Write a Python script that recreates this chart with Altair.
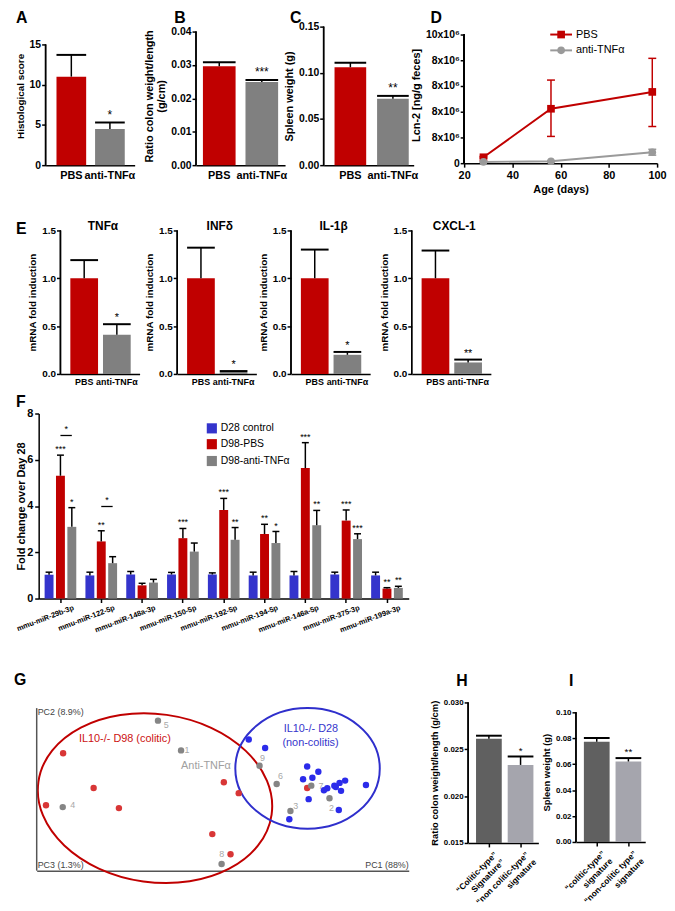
import altair as alt
import pandas as pd

FONT = "Liberation Sans"
RED = "#C00000"
GREY = "#808080"
BLUE = "#3434CC"
HDARK = "#606060"
HLIGHT = "#A5A5AD"

# ---------------- data ----------------
abc_groups = ["PBS", "anti-TNFα"]
a_values = [11.0, 4.5]
a_tops = [13.7, 5.3]
a_stars = ["", "*"]
a_ticks = [0, 5, 10, 15]
b_values = [0.0296, 0.0249]
b_tops = [0.0308, 0.0255]
b_stars = ["", "***"]
b_ticks = [0.0, 0.01, 0.02, 0.03, 0.04]
c_values = [0.106, 0.0718]
c_tops = [0.111, 0.075]
c_stars = ["", "**"]
c_ticks = [0.0, 0.05, 0.10, 0.15]

d_series = ["PBS", "anti-TNFα"]
d_days = [28, 56, 98]
d_pbs_mean = [0.46e6, 4.23e6, 5.54e6]
d_pbs_low = [0.40e6, 2.08e6, 2.85e6]
d_pbs_high = [0.52e6, 6.46e6, 8.15e6]
d_anti_mean = [0.10e6, 0.15e6, 0.85e6]
d_anti_low = [0.07e6, 0.10e6, 0.62e6]
d_anti_high = [0.13e6, 0.20e6, 1.08e6]
d_y_ticks = [0, 2000000, 4000000, 6000000, 8000000, 10000000]
d_y_labels = ["0", "8x10⁶", "8x10⁶", "8x10⁶", "8x10⁶", "10x10⁶"]
d_x_ticks = [20, 40, 60, 80, 100]

e_titles = ["TNFα", "INFδ", "IL-1β", "CXCL-1"]
e_pbs = [1.0, 1.0, 1.0, 1.0]
e_pbs_top = [1.19, 1.32, 1.30, 1.29]
e_anti = [0.41, 0.02, 0.20, 0.12]
e_anti_top = [0.52, 0.03, 0.23, 0.15]
e_anti_stars = ["*", "*", "*", "**"]
e_ticks = [0.0, 0.5, 1.0, 1.5]

f_mirs = ["mmu-miR-29b-3p", "mmu-miR-122-5p", "mmu-miR-148a-3p", "mmu-miR-150-5p",
          "mmu-miR-192-5p", "mmu-miR-194-5p", "mmu-miR-146a-5p", "mmu-miR-375-3p",
          "mmu-miR-199a-3p"]
f_series = ["D28 control", "D98-PBS", "D98-anti-TNFα"]
f_colors = [BLUE, RED, GREY]
f_control = [1.03, 1.00, 1.04, 1.04, 1.04, 1.00, 1.00, 1.04, 1.00]
f_control_top = [1.14, 1.14, 1.17, 1.13, 1.11, 1.14, 1.17, 1.14, 1.14]
f_pbs = [5.31, 2.47, 0.57, 2.61, 3.83, 2.79, 5.64, 3.37, 0.43]
f_pbs_top = [6.20, 2.93, 0.66, 3.03, 4.33, 3.21, 6.74, 3.83, 0.47]
f_anti = [3.10, 1.53, 0.69, 2.03, 2.54, 2.40, 3.17, 2.57, 0.46]
f_anti_top = [3.93, 1.81, 0.83, 2.40, 3.07, 2.90, 3.81, 2.80, 0.53]
f_control_stars = ["", "", "", "", "", "", "", "", ""]
f_pbs_stars = ["***", "**", "", "***", "***", "**", "***", "***", "**"]
f_anti_stars = ["*", "", "", "", "**", "*", "**", "***", "**"]
f_bracket_mirs = ["mmu-miR-29b-3p", "mmu-miR-122-5p"]
f_bracket_y = [7.05, 3.98]
f_bracket_stars = ["*", "*"]
f_y_ticks = [0, 2, 4, 6, 8]

g_groups = ["IL10-/- D98", "IL10-/- D28", "Anti-TNFα"]
g_colors = ["#D83636", "#2B2BEA", "#858585"]
g_red_pc1 = [7.1, 15.3, 2.5, 22.1, 50.3, 54.3, 47.2, 52.1, 72.7]
g_red_pc2 = [72.2, 50.9, 40.2, 38.5, 54.4, 47.7, 22.5, 10.1, 50.9]
g_blue_pc1 = [57.0, 61.4, 72.7, 75.7, 71.6, 74.1, 78.1, 77.2, 80.0, 80.4, 81.4, 82.9,
              81.8, 88.5, 73.1, 81.2, 67.9]
g_blue_pc2 = [80.7, 75.5, 64.1, 60.9, 56.2, 57.2, 50.7, 49.5, 52.3, 51.5, 54.0, 55.4,
              49.1, 52.7, 44.0, 37.3, 31.6]
g_grey_ids = ["5", "1", "4", "9", "6", "7", "3", "2", "8"]
g_grey_pc1 = [32.6, 38.8, 7.0, 59.9, 64.5, 73.8, 68.2, 78.7, 49.7]
g_grey_pc2 = [92.3, 74.0, 39.1, 64.5, 53.3, 52.3, 36.7, 44.6, 4.1]
g_grey_lab_pc1 = [34.8, 40.4, 9.7, 60.7, 65.5, 76.4, 69.6, 79.2, 49.7]
g_grey_lab_pc2 = [89.7, 74.2, 40.4, 69.2, 58.2, 52.3, 40.0, 38.5, 10.0]
g_ell_pc1 = [31.8, 72.8]
g_ell_pc2 = [44.6, 62.9]
g_ell_a = [119, 73]
g_ell_b = [85, 61]
g_ell_angle = [8, 0]
g_ell_color = [RED, "#2F2FCC"]
g_text = ["IL10-/- D98 (colitic)", "IL10-/- D28", "(non-colitis)", "Anti-TNFα"]
g_text_pc1 = [23.7, 73.7, 73.6, 45.5]
g_text_pc2 = [80.9, 87.2, 78.7, 64.5]
g_text_color = ["#CC1111", "#3535CC", "#3535CC", "#A0A0A0"]

h_groups = ["“Colitic-type”|Signature”", "“non colitic-type”|signature"]
h_values = [0.02613, 0.02333]
h_tops = [0.02645, 0.02423]
h_stars = ["", "*"]
h_ticks = [0.015, 0.020, 0.025, 0.030]
i_groups = ["“colitic-type”|signature", "“non-colitic type”|signature"]
i_values = [0.0773, 0.0621]
i_tops = [0.0802, 0.0647]
i_stars = ["", "**"]
i_ticks = [0.0, 0.02, 0.04, 0.06, 0.08, 0.10]


# ---------------- helpers ----------------
def band(W, s1, bw, step, n):
    pi = 1 - bw / step
    po = (W / step - n + pi) / 2
    al = min(1.0, max(0.0, s1 / (2 * po * step))) if po > 0 else 0.5
    return alt.Scale(paddingInner=pi, paddingOuter=max(po, 0), align=al)


def note(txt, x, y, size=11, weight="normal", color="black", align="left",
         baseline="top", angle=0):
    return alt.Chart(pd.DataFrame({"t": [txt]})).mark_text(
        font=FONT, fontSize=size, fontWeight=weight, color=color, align=align,
        baseline=baseline, angle=angle
    ).encode(x=alt.value(x), y=alt.value(y), text="t:N")


def letter(txt, x, y):
    return note(txt, x, y, size=16, weight="bold")


def bar_panel(cats, vals, tops, stars, colors, W, H, Href, s1, bw, step, dmin, dtop,
              ticks, fmt, ytitle, tick_fs=10.5, title_fs=10.5, xlab_fs=11, star_fs=12,
              xextra=None, cap=None):
    dmax = dmin + (dtop - dmin) * H / Href
    df = pd.DataFrame({"cat": cats, "val": vals, "top": tops, "star": stars,
                       "base": [dmin] * len(cats)})
    xa = dict(title=None, labelAngle=0, ticks=False, labelFontSize=xlab_fs,
              labelPadding=4, domainWidth=1.5, labelOverlap=False)
    if xextra:
        xa.update(xextra)
    x = alt.X("cat:N", sort=cats, scale=band(W, s1, bw, step, len(cats)),
              axis=alt.Axis(**xa))
    yscale = alt.Scale(domain=[dmin, dmax], nice=False, zero=False)
    yaxis = alt.Axis(values=ticks, tickCount=len(ticks), format=fmt, domain=False,
                     tickSize=4, tickWidth=1.5, labelFontSize=tick_fs,
                     titleFontSize=title_fs, grid=False, labelPadding=1,
                     labelOverlap=False)

    def Y(f):
        return alt.Y(f, type="quantitative", scale=yscale, axis=yaxis, title=ytitle)

    base = alt.Chart(df)
    bars = base.mark_bar().encode(
        x=x, y=Y("val"), y2="base:Q",
        color=alt.Color("cat:N", scale=alt.Scale(domain=cats, range=colors), legend=None))
    err = base.mark_rule(color="black", strokeWidth=1.5).encode(x=x, y=Y("val"), y2="top:Q")
    caps = base.mark_tick(orient="horizontal", color="black", thickness=2, opacity=1,
                          size=cap or bw).encode(x=x, y=Y("top"))
    st = base.mark_text(baseline="bottom", dy=-1, fontSize=star_fs, font=FONT,
                        color="black").encode(x=x, y=Y("top"), text="star:N")
    axisline = base.mark_rule(color="black", strokeWidth=1.5).encode(
        x=alt.value(0), y=alt.datum(dmin), y2=alt.datum(ticks[-1]))
    return [bars, err, caps, st, axisline]


def spacer(w, h=1, top=0):
    return alt.Chart(pd.DataFrame({"s": [0]})).mark_point(opacity=0, size=1).encode(
        x=alt.value(w / 2), y=alt.value(-top)).properties(width=w, height=h)


def row(*charts):
    return alt.hconcat(*charts, spacing=0, bounds="flush").resolve_scale(
        color="independent", shape="independent")


# ---------------- Row 1 ----------------
A = alt.layer(*bar_panel(abc_groups, a_values, a_tops, a_stars, [RED, GREY], 90, 140, 122,
                         11, 30, 39, 0, 15, a_ticks, "d", "Histological score",
                         title_fs=10),
              letter("A", -30, -17)).properties(width=90, height=140)
B = alt.layer(*bar_panel(abc_groups, b_values, b_tops, b_stars, [RED, GREY], 90, 140, 135,
                         7, 33, 43, 0, 0.04, b_ticks, ".2f",
                         ["Ratio colon weight/length", "(g/cm)"], title_fs=11),
              letter("B", -22, -17)).properties(width=90, height=140)
C = alt.layer(*bar_panel(abc_groups, c_values, c_tops, c_stars, [RED, GREY], 91, 140, 140,
                         11, 32, 43, 0, 0.15, c_ticks, ".2f", "Spleen weight (g)",
                         title_fs=11),
              letter("C", -34, -17)).properties(width=91, height=140)

# D
d_rows = []
for s, mean, lo, hi in ((d_series[0], d_pbs_mean, d_pbs_low, d_pbs_high),
                        (d_series[1], d_anti_mean, d_anti_low, d_anti_high)):
    for day, m, l, h in zip(d_days, mean, lo, hi):
        d_rows.append({"series": s, "day": day, "mean": m, "lo": l, "hi": h})
d_df = pd.DataFrame(d_rows)
d_dmax = 10000000 * 138 / 130
d_expr = " : ".join(f"datum.value == {v} ? '{l}'" for v, l in zip(d_y_ticks, d_y_labels)) + " : ''"
d_xaxis = alt.Axis(values=d_x_ticks, tickCount=len(d_x_ticks), format="d", labelFontSize=11,
                   titleFontSize=11, tickSize=4, tickWidth=1.5, labelPadding=2,
                   domainWidth=1.5, grid=False, labelOverlap=False, labelFlush=False)
d_yaxis = alt.Axis(values=d_y_ticks, tickCount=len(d_y_ticks), labelExpr=d_expr,
                   domain=False, tickSize=4, tickWidth=1.5, labelFontSize=10.5,
                   titleFontSize=11, grid=False, labelPadding=1, labelOverlap=False,
                   labelFlush=False)


def DX(f):
    return alt.X(f, type="quantitative", scale=alt.Scale(domain=[20, 100], nice=False),
                 axis=d_xaxis, title="Age (days)")


def DY(f):
    return alt.Y(f, type="quantitative", scale=alt.Scale(domain=[0, d_dmax], nice=False),
                 axis=d_yaxis, title="Lcn-2 [ng/g feces]")


d_color = alt.Color("series:N", scale=alt.Scale(domain=d_series, range=[RED, "#9A9A9A"]),
                    legend=None)
d_shape = alt.Shape("series:N", scale=alt.Scale(domain=d_series, range=["square", "circle"]),
                    legend=None)
dbase = alt.Chart(d_df)
d_layers = [
    dbase.mark_line(strokeWidth=2).encode(x=DX("day"), y=DY("mean"), color=d_color),
    dbase.mark_rule(strokeWidth=1.5).encode(x=DX("day"), y=DY("lo"), y2="hi:Q", color=d_color),
    dbase.mark_tick(orient="horizontal", size=8, thickness=1.5, opacity=1).encode(
        x=DX("day"), y=DY("lo"), color=d_color),
    dbase.mark_tick(orient="horizontal", size=8, thickness=1.5, opacity=1).encode(
        x=DX("day"), y=DY("hi"), color=d_color),
    dbase.mark_point(filled=True, size=60, opacity=1).encode(
        x=DX("day"), y=DY("mean"), color=d_color, shape=d_shape),
    dbase.mark_rule(color="black", strokeWidth=1.5).encode(
        x=alt.value(0), y=alt.datum(0), y2=alt.datum(10000000)),
]
d_leg_y = [8, 24]
d_leg_col = [RED, "#9A9A9A"]
d_leg_shape = ["square", "circle"]
for i, s in enumerate(d_series):
    lg = alt.Chart(pd.DataFrame({"s": [s]}))
    d_layers.append(lg.mark_rule(color=d_leg_col[i], strokeWidth=2).encode(
        x=alt.value(87), x2=alt.value(109), y=alt.value(d_leg_y[i])))
    d_layers.append(lg.mark_point(shape=d_leg_shape[i], filled=True, size=60, opacity=1,
                                  color=d_leg_col[i]).encode(
        x=alt.value(98), y=alt.value(d_leg_y[i])))
    d_layers.append(note(s, 113, d_leg_y[i], size=11, baseline="middle"))
d_layers.append(letter("D", -34, -17))
D = alt.layer(*d_layers).properties(width=195, height=138)

# ---------------- Row 2 (E) ----------------
E_charts = []
for k in range(4):
    layers = bar_panel(abc_groups, [e_pbs[k], e_anti[k]], [e_pbs_top[k], e_anti_top[k]],
                       ["", e_anti_stars[k]], [RED, GREY], 80, 145, 145, 10, 28, 33, 0, 1.5,
                       e_ticks, ".1f", "mRNA fold induction", tick_fs=10, title_fs=10,
                       xlab_fs=9, star_fs=11)
    layers.append(note(e_titles[k], 43, -4, size=12, weight="bold", align="center",
                       baseline="middle"))
    if k == 0:
        layers.append(letter("E", -45, -9))
    E_charts.append(alt.layer(*layers).properties(width=80, height=145))

# ---------------- Row 3 (F) ----------------
f_rows = []
for s, vals, tops, stars in ((f_series[0], f_control, f_control_top, f_control_stars),
                             (f_series[1], f_pbs, f_pbs_top, f_pbs_stars),
                             (f_series[2], f_anti, f_anti_top, f_anti_stars)):
    for m, v, t, st in zip(f_mirs, vals, tops, stars):
        f_rows.append({"mir": m, "series": s, "val": v, "top": t, "star": st})
f_df = pd.DataFrame(f_rows)
f_br_df = pd.DataFrame({"mir": f_bracket_mirs, "y": f_bracket_y, "star": f_bracket_stars})

fx = alt.X("mir:N", sort=f_mirs, scale=band(374, 5, 34, 41.25, 9),
           axis=alt.Axis(title=None, labelAngle=-21, labelAlign="right", labelBaseline="top",
                         labelFontSize=7.5, ticks=True, tickSize=4, tickWidth=1.5,
                         domainWidth=1.5, labelPadding=1, labelOffset=12,
                         labelOverlap=False))
fxo = alt.XOffset("series:N", sort=f_series, scale=band(34, 1, 9, 11.5, 3))
f_yaxis = alt.Axis(values=f_y_ticks, tickCount=len(f_y_ticks), format="d", tickSize=4,
                   tickWidth=1.5, labelFontSize=11, titleFontSize=11, grid=False,
                   domainWidth=1.5, labelPadding=2, titlePadding=0, labelOverlap=False)


def FY(f):
    return alt.Y(f, type="quantitative", scale=alt.Scale(domain=[0, 8], nice=False),
                 axis=f_yaxis, title="Fold change over Day 28")


fbase = alt.Chart(f_df)
f_layers = [
    fbase.mark_bar().encode(x=fx, xOffset=fxo, y=FY("val"),
                            color=alt.Color("series:N", scale=alt.Scale(domain=f_series,
                                                                        range=f_colors),
                                            legend=None)),
    fbase.mark_rule(color="black", strokeWidth=1.5).encode(x=fx, xOffset=fxo, y=FY("val"),
                                                           y2="top:Q"),
    fbase.mark_tick(orient="horizontal", size=7, thickness=1.5, color="black",
                    opacity=1).encode(x=fx, xOffset=fxo, y=FY("top")),
    fbase.mark_text(baseline="bottom", dy=-1, fontSize=9, font=FONT, color="black").encode(
        x=fx, xOffset=fxo, y=FY("top"), text="star:N"),
    alt.Chart(f_br_df).mark_tick(orient="horizontal", size=11.5, thickness=1.3,
                                 color="black", opacity=1, xOffset=5.75).encode(
        x=fx, y=FY("y")),
    alt.Chart(f_br_df).mark_text(baseline="bottom", dy=-2, fontSize=9, font=FONT,
                                 color="black", xOffset=5.75).encode(
        x=fx, y=FY("y"), text="star:N"),
]
f_leg_y = [15, 31, 48]
for i, s in enumerate(f_series):
    f_layers.append(alt.Chart(pd.DataFrame({"s": [s]})).mark_point(
        shape="square", filled=True, size=105, opacity=1, color=f_colors[i]).encode(
        x=alt.value(175), y=alt.value(f_leg_y[i])))
    f_layers.append(note(s, 184, f_leg_y[i], size=10.5, baseline="middle"))
f_layers.append(letter("F", -23, -20))
F = alt.layer(*f_layers).properties(width=374, height=187)

# ---------------- Row 4 (G, H, I) ----------------
g_pts = pd.DataFrame({
    "pc1": g_red_pc1 + g_blue_pc1 + g_grey_pc1,
    "pc2": g_red_pc2 + g_blue_pc2 + g_grey_pc2,
    "grp": [g_groups[0]] * len(g_red_pc1) + [g_groups[1]] * len(g_blue_pc1)
           + [g_groups[2]] * len(g_grey_pc1),
})
g_lab = pd.DataFrame({"pc1": g_grey_lab_pc1, "pc2": g_grey_lab_pc2, "id": g_grey_ids})
g_ell = pd.DataFrame({"pc1": g_ell_pc1, "pc2": g_ell_pc2})
g_txt = pd.DataFrame({"pc1": g_text_pc1, "pc2": g_text_pc2, "t": g_text,
                      "col": g_text_color})
g_xscale = alt.Scale(domain=[0, 100], nice=False, zero=False)
g_yscale = alt.Scale(domain=[0, 103.5], nice=False, zero=False)
g_xaxis = alt.Axis(title=None, labels=False, ticks=False, domainColor="#555555",
                   domainWidth=1.5, grid=False)


def GX(f):
    return alt.X(f, type="quantitative", scale=g_xscale, axis=g_xaxis)


def GY(f):
    return alt.Y(f, type="quantitative", scale=g_yscale, axis=None)


def ellipse_path(ratio):
    k = 0.5523
    r = ratio
    return (f"M-1,0 C-1,{-k*r:.4f} {-k:.4f},{-r:.4f} 0,{-r:.4f} "
            f"C{k:.4f},{-r:.4f} 1,{-k*r:.4f} 1,0 "
            f"C1,{k*r:.4f} {k:.4f},{r:.4f} 0,{r:.4f} "
            f"C{-k:.4f},{r:.4f} -1,{k*r:.4f} -1,0 Z")


g_layers = []
for i in range(len(g_ell_pc1)):
    g_layers.append(alt.Chart(g_ell.iloc[[i]]).mark_point(
        shape=ellipse_path(g_ell_b[i] / g_ell_a[i]), size=4 * g_ell_a[i] ** 2,
        angle=g_ell_angle[i], filled=False, stroke=g_ell_color[i], strokeWidth=2,
        opacity=1).encode(x=GX("pc1"), y=GY("pc2")))
g_layers += [
    alt.Chart(g_pts).mark_circle(size=42, opacity=1).encode(
        x=GX("pc1"), y=GY("pc2"),
        color=alt.Color("grp:N", scale=alt.Scale(domain=g_groups, range=g_colors),
                        legend=None)),
    alt.Chart(g_lab).mark_text(fontSize=9, font=FONT, color="#A8A8A8").encode(
        x=GX("pc1"), y=GY("pc2"), text="id:N"),
    alt.Chart(g_txt).mark_text(fontSize=11, font=FONT).encode(
        x=GX("pc1"), y=GY("pc2"), text="t:N", color=alt.Color("col:N", scale=None)),
    alt.Chart(pd.DataFrame({"s": [0]})).mark_rule(color="#555555", strokeWidth=1.5).encode(
        x=alt.value(0), y=alt.datum(0), y2=alt.datum(100)),
    note("PC2 (8.9%)", 1, 10, size=9, color="#444444", baseline="middle"),
    note("PC3 (1.3%)", 1, 164, size=9, color="#444444", baseline="middle"),
    note("PC1 (88%)", 376, 164, size=9, color="#444444", align="right", baseline="middle"),
    letter("G", -23, -31),
]
G = alt.layer(*g_layers).properties(width=376, height=170)

hi_x = dict(labelAngle=-45, labelAlign="right", labelBaseline="top", ticks=True,
            tickSize=4, tickWidth=1.5, labelExpr="split(datum.label, '|')",
            labelFontSize=8.5, labelPadding=3, labelOffset=4)
H = alt.layer(*bar_panel(h_groups, h_values, h_tops, h_stars, [HDARK, HLIGHT], 71, 142, 142,
                         8, 26, 32, 0.015, 0.030, h_ticks, ".3f",
                         "Ratio colon weight/length (g/cm)", tick_fs=8, title_fs=9.5,
                         star_fs=10, xextra=hi_x),
              letter("H", -12, -30)).properties(width=71, height=142)
I = alt.layer(*bar_panel(i_groups, i_values, i_tops, i_stars, [HDARK, HLIGHT], 70, 141, 131,
                         8, 26, 32, 0, 0.10, i_ticks, ".2f", "Spleen weight (g)",
                         tick_fs=8, title_fs=9.5, star_fs=10, xextra=hi_x),
              letter("I", -7, -30)).properties(width=70, height=141)

# ---------------- assemble ----------------
row1 = row(spacer(38, 180), A, spacer(62), B, spacer(39), C, spacer(51), D)
row2 = row(spacer(53, 162, top=25), E_charts[0], spacer(38), E_charts[1], spacer(35),
           E_charts[2], spacer(42), E_charts[3])
row3 = row(spacer(31, 260, top=22), F)
row4 = row(spacer(29, 1, top=31), G, spacer(60), H, spacer(38), I)

chart = alt.vconcat(row1, row2, row3, row4, spacing=0).properties(
    padding={"left": 0, "top": -3, "right": 0, "bottom": -2},
).resolve_scale(color="independent", shape="independent").configure(
    font=FONT
).configure_view(stroke=None).configure_axis(
    labelFont=FONT, titleFont=FONT, labelFontWeight="bold", titleFontWeight="bold",
    labelColor="black", titleColor="black", domainColor="black", tickColor="black",
    grid=False, labelFlush=False, labelOverlap=False
)

chart.save("out.html", embed_options={"renderer": "svg", "actions": False})
